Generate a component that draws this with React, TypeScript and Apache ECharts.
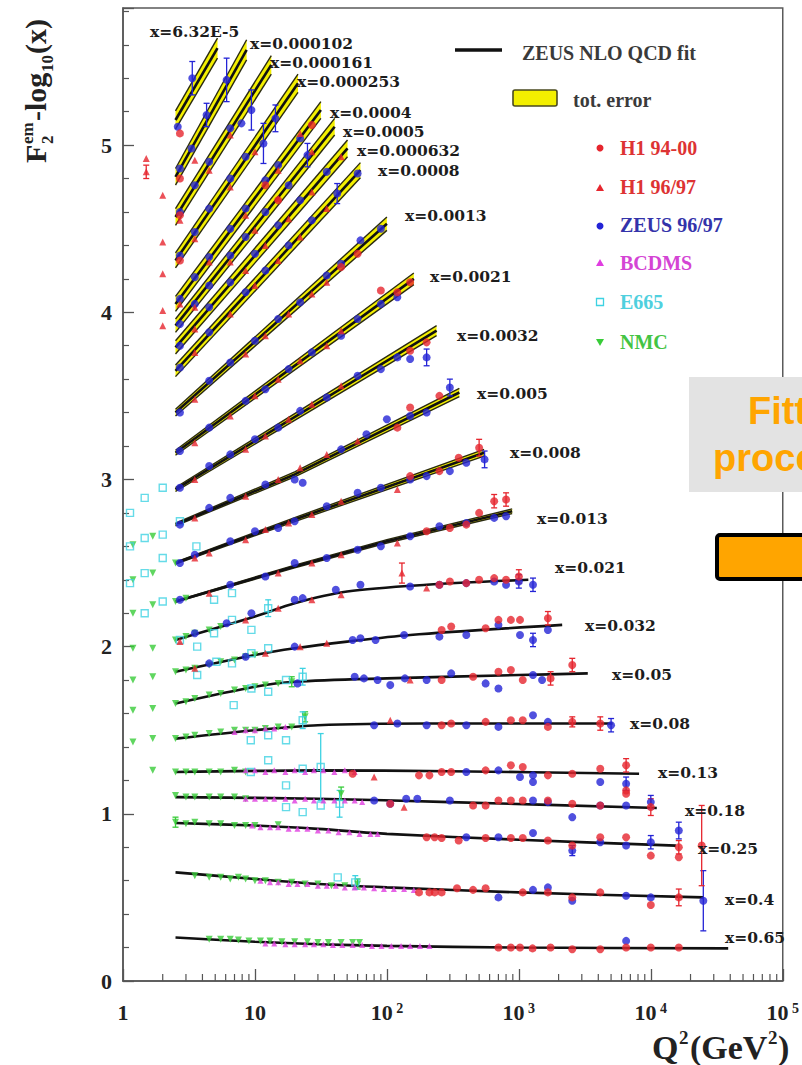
import React, { useEffect, useRef } from 'react';
import * as echarts from 'echarts';

// ---------------- DATA ----------------
const binLabels = ['x=6.32E-5','x=0.000102','x=0.000161','x=0.000253','x=0.0004','x=0.0005','x=0.000632','x=0.0008','x=0.0013','x=0.0021','x=0.0032','x=0.005','x=0.008','x=0.013','x=0.021','x=0.032','x=0.05','x=0.08','x=0.13','x=0.18','x=0.25','x=0.4','x=0.65'];

// ZEUS NLO QCD fit, one curve per x bin: [Q2, F2 - log10(x)]
const fitCurves = [
  [[2.5,5.15],[5.2,5.58]],
  [[2.5,4.81],[8.65,5.57]],
  [[2.5,4.57],[13.3,5.48]],
  [[2.5,4.31],[21.2,5.37]],
  [[2.5,4.05],[31.6,5.21]],
  [[2.5,3.92],[40.2,5.11]],
  [[2.5,3.79],[50.3,4.98]],
  [[2.5,3.65],[63,4.85]],
  [[2.5,3.40],[100,4.53]],
  [[2.5,3.16],[160,4.20]],
  [[2.5,2.94],[238,3.89]],
  [[2.5,2.73],[20,3.03],[354,3.52]],
  [[2.5,2.50],[20,2.76],[545,3.16]],
  [[2.5,2.27],[20,2.48],[100,2.63],[890,2.81]],
  [[2.5,2.04],[10,2.18],[20,2.26],[50,2.33],[200,2.37],[1180,2.40]],
  [[2.5,1.85],[10,1.95],[20,1.99],[50,2.03],[150,2.07],[2130,2.13]],
  [[2.5,1.66],[10,1.76],[20,1.79],[100,1.81],[1000,1.83],[3330,1.84]],
  [[2.5,1.45],[10,1.50],[30,1.53],[200,1.54],[5130,1.54]],
  [[2.5,1.25],[30,1.26],[300,1.255],[8150,1.24]],
  [[2.5,1.10],[30,1.09],[300,1.07],[11100,1.035]],
  [[2.5,0.945],[10,0.93],[30,0.91],[100,0.88],[1000,0.845],[15500,0.81]],
  [[2.5,0.65],[10,0.61],[30,0.58],[100,0.56],[1000,0.53],[25000,0.50]],
  [[2.5,0.26],[10,0.235],[30,0.22],[100,0.21],[1000,0.20],[38600,0.195]],
];

// total error of the fit (half width), one value per fit point, for the first 14 bins
const bandErr = [
  [0.055,0.06],[0.05,0.06],[0.05,0.055],[0.045,0.055],[0.045,0.05],[0.04,0.05],[0.04,0.05],
  [0.035,0.045],[0.02,0.04],[0.015,0.035],[0.012,0.03],[0.008,0.015,0.025],[0.006,0.012,0.02],
  [0.004,0.008,0.01,0.014],
];

// [Q2, F, (error)]
const zeus9697 = [
  [2.6,5.11],[3.35,5.40,0.10],
  [2.7,4.86],[3.3,4.98],[4.3,5.18,0.07],[6.1,5.39,0.13],
  [2.7,4.60],[3.5,4.76],[4.5,4.90],[6.5,5.10],[7.9,5.13],[9.4,5.21,0.12],
  [2.7,4.34],[3.5,4.48],[4.5,4.62],[6.5,4.80],[8.5,4.93],[11.6,5.01,0.12],[14.3,5.16,0.08],
  [2.7,4.08],[3.5,4.21],[4.5,4.33],[6.5,4.50],[8.5,4.62],[12,4.79],[15,4.88],[22,5.04],
  [2.7,3.93],[3.5,4.05],[4.5,4.16],[6.5,4.34],[8.5,4.45],[12,4.60],[18,4.76],[25,4.94,0.07],
  [2.7,3.80],[4.5,4.03],[6.5,4.18],[10,4.35],[15,4.52],[22,4.67],[35,4.84],
  [2.7,3.67],[4.5,3.88],[8.5,4.12],[12,4.25],[18,4.40],[27,4.55],[42,4.71,0.06],[60,4.83],
  [2.7,3.40],[4.5,3.59],[6.5,3.70],[10,3.83],[15,3.96],[22,4.06],[35,4.22],[45,4.29],[63,4.43],[90,4.50],
  [2.7,3.17],[4.5,3.31],[8.5,3.47],[12,3.54],[18,3.66],[27,3.76],[45,3.86],[60,3.96],[90,4.05],[120,4.09],
  [2.7,2.95],[4.5,3.08],[6.5,3.15],[10,3.24],[15,3.31],[22,3.41],[35,3.49],[60,3.62],[90,3.66],[120,3.73],[150,3.72],[200,3.73,0.05],
  [2.7,2.73],[4.5,2.83],[6.5,2.89],[12,2.97],[20,3.00],[23,2.98],[45,3.18],[70,3.27],[100,3.36],[150,3.38],[200,3.40],[300,3.55,0.05],
  [2.7,2.50],[3.5,2.55],[6.5,2.63],[10,2.69],[15,2.71],[20,2.75],[35,2.84],[60,2.92],[90,2.95],[150,3.00],[200,3.02],[300,3.05],[400,3.10],[550,3.12,0.05],
  [2.7,2.28],[6.5,2.37],[12,2.42],[20,2.50],[35,2.53],[60,2.58],[90,2.60],[150,2.66],[250,2.72],[400,2.74],[650,2.77],[800,2.78],
  [3.5,2.08],[6.1,2.14],[9.4,2.20],[20,2.28],[23,2.29],[41,2.34],[63,2.37],[150,2.36],[250,2.37],[400,2.38],[650,2.39],[800,2.37],[1000,2.39,0.04],[1280,2.37,0.04],
  [4.5,1.90],[8.5,1.94],[20,2.00],[55,2.04],[63,2.05],[82,2.04],[135,2.07],[250,2.06],[400,2.07],[700,2.13],[1020,2.07],[1280,2.04,0.04],[1660,2.10],
  [21,1.78],[57,1.82],[67,1.81],[85,1.80],[106,1.77],[137,1.81],[200,1.80],[307,1.84],[560,1.78],[700,1.75],[1280,1.83],[1500,1.80],
  [80,1.53],[120,1.54],[200,1.53],[400,1.53],[700,1.52],[1280,1.59],[1660,1.55],[5000,1.53,0.04],
  [400,1.25],[700,1.26],[1020,1.22],[1280,1.23],[1280,1.19],[4140,1.19],[6500,1.18,0.04],
  [80,1.08],[106,1.06],[140,1.09],[170,1.09],[300,1.08],[1280,1.08],[1660,1.07],[2540,0.98],[4140,1.05],[6500,1.05],[10000,1.07,0.04],
  [400,0.86],[700,0.86],[1280,0.885],[2540,0.78,0.03],[4140,0.83],[6500,0.81],[10000,0.83,0.04],[16300,0.90,0.05],
  [700,0.50],[1280,0.545],[1660,0.56],[2540,0.48],[6500,0.51],[10000,0.50],[25000,0.48,0.18],
  [6500,0.24],
];

const h1_9400 = [
  [2.7,5.07],[2.7,4.80],[2.7,4.58],[2.7,4.31],
  [12,4.76],[27,5.12],[15,4.67],
  [45,4.27],[60,4.35],
  [90,4.13],[120,4.12],[150,4.18],
  [150,3.77],[200,3.82],
  [120,3.31],[150,3.43],[250,3.50],
  [150,3.02],[250,3.05],[350,3.13],[500,3.19,0.05],
  [200,2.69],[300,2.71],[400,2.73],[500,2.80],[650,2.87,0.04],[800,2.88,0.04],
  [250,2.37],[300,2.39],[400,2.38],[500,2.40],[650,2.41],[800,2.40],[1000,2.42,0.04],
  [260,2.10],[307,2.12],[560,2.11],[700,2.16],[870,2.16],[1020,2.16],[1660,2.17,0.04],
  [260,1.80],[450,1.82],[700,1.85],[870,1.86],[1070,1.80],[1740,1.81,0.04],[2540,1.89,0.04],
  [260,1.53],[307,1.54],[560,1.55],[870,1.56],[1070,1.56],[1660,1.52],[2540,1.55,0.03],[4140,1.54,0.04],
  [55,1.24],[175,1.23],[210,1.23],[260,1.25],[307,1.25],[560,1.26],[870,1.29],[1070,1.28],[1660,1.23],[2540,1.24],[4140,1.27],[6500,1.29,0.04],[6500,1.14],
  [106,1.06],[450,1.05],[560,1.05],[700,1.08],[870,1.08],[1070,1.08],[1660,1.08],[2540,1.06],[4140,1.05],[6500,1.12],[10000,1.04,0.05],
  [200,0.86],[230,0.86],[260,0.855],[350,0.84],[560,0.855],[870,0.855],[1070,0.855],[1660,0.84],[2540,0.81],[4140,0.86],[6500,0.86],[10000,0.75],[16300,0.80,0.04],[16300,0.74],[24300,0.81,0.24],
  [175,0.53],[210,0.53],[230,0.53],[260,0.53],[340,0.555],[450,0.545],[560,0.555],[1070,0.53],[1660,0.53],[2540,0.50],[4140,0.53],[10000,0.455],[16300,0.50,0.05],
  [700,0.20],[870,0.20],[1020,0.20],[1270,0.195],[1740,0.20],[2540,0.19],[4140,0.19],[6500,0.20],[10000,0.20],[16300,0.20],
];

const h1_9697 = [
  [1.5,4.92],[1.5,4.84,0.04],[2.0,4.70],[2.0,4.42],[2.0,4.23],[2.0,4.01],[2.0,3.92],
  [3.5,4.91],
  [2.7,4.55],[4.5,4.85],[6.5,5.06],
  [3.5,4.44],[6.5,4.75],[10,4.96],
  [2.7,4.05],[4.5,4.30],[8.5,4.58],[15,4.85],[22,5.07],
  [3.5,4.03],[6.5,4.30],[10,4.49],[15,4.68],[27,4.96],
  [3.5,3.90],[8.5,4.25],[12,4.40],[18,4.56],[27,4.72],[45,4.93],
  [3.5,3.76],[6.5,3.99],[10,4.16],[15,4.31],[22,4.45],[35,4.62],
  [3.5,3.48],[8.5,3.75],[12,3.86],[18,3.99],[27,4.11],[35,4.18],
  [3.5,3.22],[6.5,3.38],[10,3.50],[15,3.60],[22,3.71],[35,3.80],[45,3.89],
  [3.5,3.00],[8.5,3.18],[12,3.26],[18,3.36],[27,3.45],[45,3.56],
  [3.5,2.77],[8.5,2.90],[15,3.00],[22,3.07],[35,3.15],[60,3.23],
  [3.5,2.53],[4.5,2.56],[8.5,2.64],[12,2.70],[18,2.74],[27,2.79],[45,2.87],[120,2.94],
  [4.5,2.32],[15,2.44],[27,2.50],[45,2.55],[120,2.62],
  [2.7,2.03],[8.5,2.16],[15,2.23],[27,2.28],[45,2.31],[130,2.44,0.06],[200,2.35],
  [3.5,1.87],[12,1.96],[22,2.00],[35,2.02],
  [150,1.80],[106,1.56],[80,1.22],[135,1.04],
];

const bcdms = [
  [7,1.49],[8.5,1.50],[10,1.50],[12,1.51],[14,1.51],[17,1.52],
  [8.5,1.26],[10,1.26],[12,1.25],[14,1.26],[17,1.25],[20,1.26],[24,1.25],[28,1.26],[33,1.26],[40,1.25],[48,1.26],[57,1.25],
  [8.5,1.09],[10,1.09],[12,1.09],[14,1.09],[17,1.09],[20,1.08],[24,1.09],[28,1.08],[33,1.08],[40,1.08],[48,1.08],[57,1.08],[65,1.07],
  [9.5,0.93],[11,0.92],[13,0.92],[15,0.92],[18,0.91],[21,0.91],[25,0.91],[30,0.90],[36,0.90],[43,0.89],[52,0.89],[62,0.88],[75,0.88],[85,0.88],
  [11,0.60],[13,0.59],[15,0.59],[18,0.58],[21,0.58],[25,0.58],[30,0.57],[35,0.57],[41,0.57],[48,0.56],[57,0.56],[67,0.56],[80,0.555],[95,0.55],[113,0.55],[135,0.55],[160,0.545],
  [12,0.225],[14,0.225],[17,0.22],[20,0.22],[24,0.22],[28,0.22],[33,0.22],[39,0.215],[46,0.215],[55,0.215],[65,0.215],[77,0.21],[91,0.21],[108,0.21],[128,0.21],[150,0.21],[178,0.21],[210,0.21],
];

const e665 = [
  [1.13,2.80],[1.46,2.89],[2.0,2.95],
  [1.13,2.60],[1.46,2.65],[2.0,2.67],
  [1.13,2.38],[1.46,2.44],[2.0,2.53],
  [1.46,2.20],[2.0,2.27],
  [2.7,2.75],[3.6,2.60],[4.9,2.28],[6.7,2.32],
  [2.7,2.04],[3.65,2.00],[4.9,2.08],[6.7,2.16],[9.4,2.10],[12.6,2.23,0.05],
  [3.65,1.83],[5.1,1.91],[6.7,1.90],[9.4,1.96],[12.6,1.99],
  [9.4,1.75],[12.6,1.73],[17.2,1.80],[23,1.82,0.05],
  [6.9,1.65],[9.3,1.44],[12.6,1.47],[17.2,1.44],[23,1.56,0.05],
  [9.3,1.25],[12.6,1.32],[17.2,1.17],[23,1.27],[31.5,1.28,0.2],
  [17.2,1.04],[23,1.01],[31.5,1.05],[43.8,1.06,0.08],
  [42.4,0.62],[57.6,0.59,0.04],
];

const nmc = [
  [1.19,2.61],[1.68,2.66],[1.19,2.40],[1.68,2.44],[1.19,2.20],[1.68,2.25],[1.19,1.99],[1.68,1.99],
  [1.19,1.80],[1.68,1.82],[1.19,1.62],[1.68,1.63],[1.19,1.43],[1.68,1.45],[1.68,1.26],
  [2.5,2.50],
  [2.5,2.27],[3,2.29],
  [2.5,2.04],[3,2.06],[3.5,2.08],[4.5,2.10],[5.5,2.12],
  [2.5,1.85],[3,1.86],[3.5,1.87],[4.5,1.89],[5.5,1.91],[7,1.92],[8.5,1.94],[10,1.95],
  [2.5,1.66],[3,1.67],[3.5,1.69],[4.5,1.71],[5.5,1.72],[7,1.74],[8.5,1.75],[10,1.76],[12,1.77],[15,1.78],[19,1.79,0.03],
  [2.5,1.45],[3,1.46],[3.5,1.47],[4.5,1.48],[5.5,1.49],[7,1.50],[8.5,1.50],[10,1.50],[12,1.51],[15,1.52],[19,1.52],[24,1.58,0.03],
  [2.5,1.25],[3,1.25],[3.5,1.25],[4.5,1.25],[5.5,1.25],[7,1.26],[8.5,1.25],
  [2.5,1.11],[3,1.10],[3.5,1.10],[4.5,1.10],[5.5,1.10],[7,1.10],[8.5,1.09],[45,1.12,0.04],
  [2.5,0.95,0.03],[3,0.94],[3.5,0.95],[4.5,0.94],[5.5,0.94],[7,0.93],[8.5,0.93],[10,0.93],[15,0.935],
  [3.5,0.63],[4.5,0.62],[5.5,0.62],[6.5,0.61],[7.5,0.62],[8.5,0.61],[10,0.60],[12,0.60],[15,0.59],[19,0.59],[24,0.58],[30,0.58],[38,0.57],[48,0.57],[60,0.58,0.03],
  [4.5,0.25],[5.5,0.25],[6.5,0.25],[7.5,0.245],[9,0.24],[11,0.24],[13,0.24],[16,0.235],[20,0.235],[25,0.235],[30,0.23],[36,0.23],[45,0.23],[55,0.23],[62,0.23],
];

const xMinorTicks = [2,3,4,5,6,7,8,9,20,30,40,50,60,70,80,90,200,300,400,500,600,700,800,900,2000,3000,4000,5000,6000,7000,8000,9000,20000,30000,40000,50000,60000,70000,80000,90000];

// ---------------- LAYOUT / STYLE ----------------
const SERIF = '"Liberation Serif", "Times New Roman", serif';
const LABEL_SERIF = '"DejaVu Serif", "Liberation Serif", serif';
const SANS = '"Liberation Sans", Arial, sans-serif';
const RED = '#e6262e';
const BLUE = '#2424d6';
const MAGENTA = '#e03de0';
const CYAN = '#3ed2e2';
const GREEN = '#38cc38';
const INK = '#222';

const binLabelPos = [[150,31],[250,43],[270,62],[297,81],[330,112],[343,131],[357,150],[378,170],[405,215],[430,276],[457,335],[477,393],[510,452],[537,518],[555,567],[585,625],[612,674],[630,723],[658,772],[685,810],[698,848],[725,899],[725,937]];

function txt(text: string, x: number, y: number, size: number, color: string, family: string = SERIF) {
  return {
    type: 'text', x, y, z: 60, silent: true,
    style: {
      text, font: `bold ${size}px ${family}`, fill: color,
      textAlign: 'left', textVerticalAlign: 'middle', align: 'left', verticalAlign: 'middle',
    },
  };
}

function errSeries(data: number[][], color: string) {
  return {
    type: 'custom', silent: true, z: 4,
    data: data.filter((d) => d.length > 2),
    encode: { x: 0, y: 1 },
    renderItem: (params: any, api: any) => {
      const q = api.value(0), f = api.value(1), e = api.value(2);
      const t = api.coord([q, f + e]);
      const b = api.coord([q, f - e]);
      const st = { stroke: color, lineWidth: 1.3 };
      return {
        type: 'group',
        children: [
          { type: 'line', shape: { x1: t[0], y1: t[1], x2: b[0], y2: b[1] }, style: st },
          { type: 'line', shape: { x1: t[0] - 3, y1: t[1], x2: t[0] + 3, y2: t[1] }, style: st },
          { type: 'line', shape: { x1: b[0] - 3, y1: b[1], x2: b[0] + 3, y2: b[1] }, style: st },
        ],
      };
    },
  };
}

function scatter(name: string, data: number[][], symbol: string, size: number, itemStyle: any, extra: any = {}) {
  return {
    type: 'scatter', name, silent: true, z: 5,
    data: data.map((d) => [d[0], d[1]]),
    symbol, symbolSize: size, itemStyle, ...extra,
  };
}

export default function App() {
  const ref = useRef<HTMLDivElement>(null);

  useEffect(() => {
    if (!ref.current) return;
    const chart = echarts.init(ref.current, null, { renderer: 'svg' });

    const fitSeries = fitCurves.map((pts, i) => ({
      type: 'line', silent: true, z: 3,
      data: pts,
      symbol: 'none', showSymbol: false,
      smooth: i >= 14 ? 0.3 : false,
      lineStyle: { color: '#111', width: 2.6 },
    }));

    const bandSeries = {
      type: 'custom', silent: true, z: 2,
      data: bandErr.map((_, i) => [fitCurves[i][0][0], fitCurves[i][0][1], i]),
      encode: { x: 0, y: 1 },
      renderItem: (params: any, api: any) => {
        const i = api.value(2);
        const pts = fitCurves[i];
        const err = bandErr[i];
        const up = pts.map((p, k) => api.coord([p[0], p[1] + err[k]]));
        const lo = pts.map((p, k) => api.coord([p[0], p[1] - err[k]]));
        const poly = up.concat(lo.slice().reverse());
        return {
          type: 'group',
          children: [
            { type: 'polygon', shape: { points: poly }, style: { fill: '#f3ef00', stroke: 'none' } },
            { type: 'polyline', shape: { points: up }, style: { stroke: '#2a2a10', lineWidth: 1.4, fill: 'none' } },
            { type: 'polyline', shape: { points: lo }, style: { stroke: '#2a2a10', lineWidth: 1.4, fill: 'none' } },
          ],
        };
      },
    };

    const tickSeries = {
      type: 'custom', silent: true, z: 6,
      data: xMinorTicks.map((v) => [v, 0]),
      encode: { x: 0, y: 1 },
      renderItem: (params: any, api: any) => {
        const p = api.coord([api.value(0), 0]);
        return { type: 'line', shape: { x1: p[0], y1: p[1], x2: p[0], y2: p[1] - 7 }, style: { stroke: '#555', lineWidth: 1.2 } };
      },
    };

    const graphics: any[] = [];
    // bin labels
    binLabels.forEach((l, i) => {
      graphics.push(txt(l, binLabelPos[i][0], binLabelPos[i][1], 15.5, '#1c1c1c', LABEL_SERIF));
    });
    // legend
    graphics.push({ type: 'line', z: 60, shape: { x1: 455, y1: 50, x2: 502, y2: 50 }, style: { stroke: '#111', lineWidth: 3.5 } });
    graphics.push(txt('ZEUS NLO QCD fit', 522, 53, 20, '#3a3a3a'));
    graphics.push({ type: 'rect', z: 60, shape: { x: 513, y: 90, width: 44, height: 16, r: 2 }, style: { fill: '#f3ef00', stroke: '#4a4a20', lineWidth: 1.6 } });
    graphics.push(txt('tot. error', 573, 100, 20, '#3a3a3a'));
    graphics.push({ type: 'circle', z: 60, shape: { cx: 600, cy: 148, r: 3.5 }, style: { fill: RED } });
    graphics.push(txt('H1 94-00', 620, 148, 20, '#dd3333'));
    graphics.push({ type: 'polygon', z: 60, shape: { points: [[600, 184], [596, 191], [604, 191]] }, style: { fill: RED } });
    graphics.push(txt('H1 96/97', 620, 187, 20, '#dd3333'));
    graphics.push({ type: 'circle', z: 60, shape: { cx: 600, cy: 226, r: 3.5 }, style: { fill: BLUE } });
    graphics.push(txt('ZEUS 96/97', 620, 225, 20, '#3333aa'));
    graphics.push({ type: 'polygon', z: 60, shape: { points: [[600, 259], [596, 266], [604, 266]] }, style: { fill: MAGENTA } });
    graphics.push(txt('BCDMS', 620, 263, 20, '#d444d4'));
    graphics.push({ type: 'rect', z: 60, shape: { x: 596.5, y: 298.5, width: 7, height: 7 }, style: { fill: 'none', stroke: CYAN, lineWidth: 1.3 } });
    graphics.push(txt('E665', 620, 302, 20, '#4fd0de'));
    graphics.push({ type: 'polygon', z: 60, shape: { points: [[596, 339], [604, 339], [600, 346]] }, style: { fill: GREEN } });
    graphics.push(txt('NMC', 620, 342, 20, '#44c444'));

    // y-axis title (rotated)
    const yt = (text: string, x: number, y: number, size: number) => ({
      type: 'text', x, y, silent: true,
      style: { text, font: `bold ${size}px ${SERIF}`, fill: INK, textAlign: 'left', align: 'left', textVerticalAlign: 'bottom', verticalAlign: 'bottom' },
    });
    graphics.push({
      type: 'group', x: 50, y: 163, rotation: Math.PI / 2, z: 60, silent: true,
      children: [
        yt('F', 0, 0, 30),
        yt('em', 19, -14, 17),
        yt('2', 19, 6, 17),
        yt('-log', 42, 0, 30),
        yt('10', 91, 6, 17),
        yt('(x)', 109, 0, 30),
      ],
    });

    // x-axis title
    graphics.push(txt('Q', 652, 1047, 34, INK));
    graphics.push(txt('2', 679, 1037, 19, INK));
    graphics.push(txt('(GeV', 690, 1047, 34, INK));
    graphics.push(txt('2', 768, 1037, 19, INK));
    graphics.push(txt(')', 778, 1047, 34, INK));

    // overlay from slide
    graphics.push({ type: 'rect', z: 80, shape: { x: 689, y: 377, width: 200, height: 115 }, style: { fill: '#e3e3e3' } });
    graphics.push({ type: 'text', z: 81, x: 806, y: 411, style: { text: 'Fitting', font: `bold 38px ${SANS}`, fill: '#ffa500', textAlign: 'center', align: 'center', textVerticalAlign: 'middle', verticalAlign: 'middle' } });
    graphics.push({ type: 'text', z: 81, x: 806, y: 458, style: { text: 'procedure', font: `bold 38px ${SANS}`, fill: '#ffa500', textAlign: 'center', align: 'center', textVerticalAlign: 'middle', verticalAlign: 'middle' } });
    graphics.push({ type: 'rect', z: 80, shape: { x: 717, y: 535, width: 200, height: 44, r: 3 }, style: { fill: '#ffa500', stroke: '#000', lineWidth: 4 } });

    const option: any = {
      animation: false,
      backgroundColor: '#fff',
      grid: { left: 123, right: 12, top: 8, bottom: 84, show: true, borderColor: '#5a5a5a', borderWidth: 1.5, backgroundColor: 'transparent' },
      xAxis: {
        type: 'log', logBase: 10, min: 1, max: 100000,
        axisLine: { show: true, lineStyle: { color: '#555', width: 1.5 } },
        axisTick: { show: true, inside: true, length: 12, lineStyle: { color: '#555', width: 1.3 } },
        splitLine: { show: false },
        axisLabel: {
          margin: 20, color: INK, fontSize: 22, fontWeight: 'bold', fontFamily: SERIF,
          formatter: (v: number) => {
            const e = Math.round(Math.log10(v));
            if (e === 0) return '{m|1}';
            if (e === 1) return '{m|10}';
            return `{m|10}{s| ${e}}`;
          },
          rich: {
            m: { fontSize: 22, fontWeight: 'bold', fontFamily: SERIF, color: INK, lineHeight: 22 },
            s: { fontSize: 14, fontWeight: 'bold', fontFamily: SERIF, color: INK, verticalAlign: 'top', lineHeight: 12 },
          },
        },
      },
      yAxis: {
        type: 'value', min: 0, max: 5.82, interval: 1,
        axisLine: { show: true, lineStyle: { color: '#555', width: 1.5 } },
        axisTick: { show: true, inside: true, length: 11, lineStyle: { color: '#555', width: 1.3 } },
        minorTick: { show: true, splitNumber: 5, length: 6, lineStyle: { color: '#555', width: 1.2 } },
        splitLine: { show: false },
        minorSplitLine: { show: false },
        axisLabel: {
          margin: 11, color: INK, fontSize: 22, fontWeight: 'bold', fontFamily: SERIF,
          showMaxLabel: false,
          formatter: (v: number) => (Math.abs(v - Math.round(v)) < 1e-6 ? String(Math.round(v)) : ''),
        },
      },
      series: [
        bandSeries,
        ...fitSeries,
        tickSeries,
        errSeries(nmc, GREEN),
        errSeries(e665, CYAN),
        errSeries(zeus9697, BLUE),
        errSeries(h1_9697, RED),
        errSeries(h1_9400, RED),
        scatter('NMC', nmc, 'triangle', 7, { color: GREEN }, { symbolRotate: 180 }),
        scatter('E665', e665, 'rect', 7, { color: 'rgba(0,0,0,0)', borderColor: CYAN, borderWidth: 1.4 }),
        scatter('BCDMS', bcdms, 'triangle', 6, { color: MAGENTA }),
        scatter('ZEUS 96/97', zeus9697, 'circle', 8, { color: BLUE }),
        scatter('H1 96/97', h1_9697, 'triangle', 7, { color: RED }),
        scatter('H1 94-00', h1_9400, 'circle', 8, { color: RED }),
      ],
      graphic: { elements: graphics },
    };

    chart.setOption(option);
    return () => chart.dispose();
  }, []);

  return (
    <div
      ref={ref}
      style={{ position: 'absolute', left: 0, top: 0, width: 802, height: 1065, background: '#fff', overflow: 'hidden' }}
    />
  );
}
